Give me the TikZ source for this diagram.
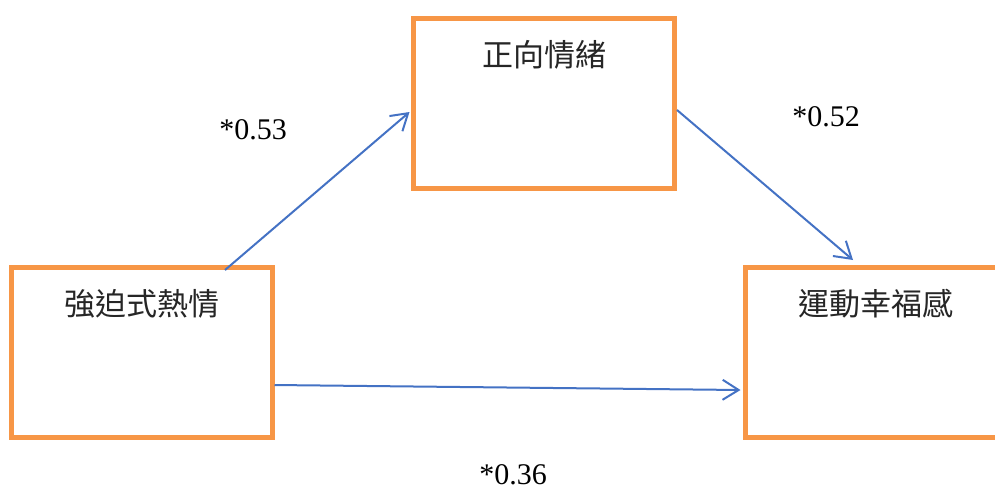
\documentclass[tikz,border=0pt]{standalone}
\usepackage{fontspec}
\setmainfont{Liberation Serif}
\newfontfamily\cjk{Noto Sans CJK TC}
\usetikzlibrary{arrows.meta,positioning}
\definecolor{boxorange}{HTML}{F79646}
\definecolor{arrowblue}{HTML}{4472C4}
\tikzset{
  varbox/.style={draw=boxorange, line width=5pt, fill=white, rectangle,
    minimum width=261pt, minimum height=170pt, inner sep=0pt},
  boxtext/.style={font=\cjk\fontsize{31pt}{36pt}\selectfont, text=black!85, inner sep=0pt},
  coef/.style={font=\fontsize{30pt}{34pt}\selectfont, text=black, inner sep=0pt},
  link/.style={draw=arrowblue, line width=2pt, -{Straight Barb[length=16pt,width=20pt,line width=2pt]}}
}
\begin{document}
\begin{tikzpicture}[x=1pt,y=-1pt]
\useasboundingbox (0,0) rectangle (995,491);
\begin{scope}
\clip (0,0) rectangle (995,491);
\node[varbox] (L) at (141.5,352) {};
\node[varbox] (T) at (544,103.5) {};
\node[varbox] (R) at (876,352) {};
\end{scope}
\node[boxtext] (Lt) at (141.5,304) {強迫式熱情};
\node[boxtext] (Tt) at (544,55) {正向情緒};
\node[boxtext] (Rt) at (876,304) {運動幸福感};
\draw[link] ([xshift=-49.5pt,yshift=-5.5pt]L.north east) -- ([xshift=-1.5pt,yshift=-8.5pt]T.west);
\draw[link] ([yshift=-6.5pt]T.east) -- ([xshift=-23pt,yshift=4.5pt]R.north);
\draw[link] ([yshift=-33pt]L.east) -- ([xshift=-2.5pt,yshift=-38pt]R.west);
\node[coef] (c1) at (253,130) {*0.53};
\node[coef] (c2) at (826,117) {*0.52};
\node[coef] (c3) at (513,475) {*0.36};
\end{tikzpicture}
\end{document}
